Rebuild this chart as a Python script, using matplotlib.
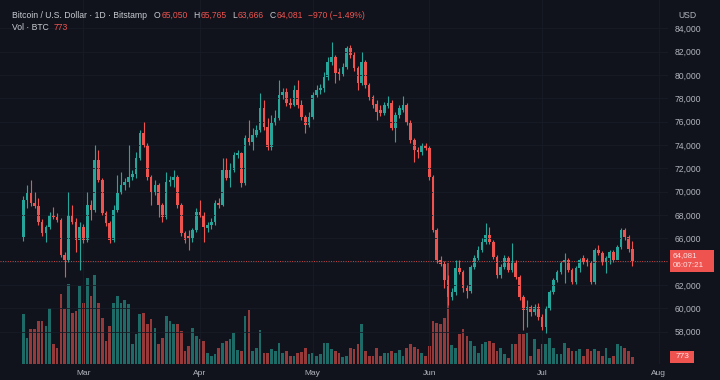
import matplotlib.pyplot as plt
import numpy as np
import pandas as pd
from matplotlib.patches import Rectangle

# daily BTC/USD candles, Bitstamp
start = "2024-02-14"
opens = [66110, 69290, 69890, 69030, 68770, 67400, 66460, 66970, 68000, 67830,
         67570, 64570, 64140, 68000, 67400, 65860, 66970, 65860, 68860, 68430,
         72710, 71000, 68170, 67310, 65860, 68430, 69890, 70570, 70830, 71260,
         71510, 72890, 75030, 74000, 71260, 69970, 70570, 68860, 67830, 70830,
         71000, 71260, 68860, 66460, 66200, 66030, 66710, 68260, 68000, 66890,
         67140, 67400, 69030, 68860, 71860, 71170, 71860, 73140, 73310, 70740,
         74600, 74260, 74860, 75290, 77170, 75540, 73830, 75890, 76320, 78290,
         78540, 77600, 77430, 78720, 77430, 76400, 75720, 76400, 78290, 78720,
         78890, 79830, 81120, 81540, 80260, 80090, 80690, 82320, 81720, 80600,
         79320, 81120, 79140, 78120, 77520, 77000, 76740, 77340, 77600, 75460,
         76570, 77000, 77430, 75890, 74430, 73570, 73400, 74000, 73740, 71260,
         66710, 64140, 63800, 62430, 60970, 61400, 63460, 63120, 61740, 61490,
         63540, 64310, 65000, 65690, 66290, 65690, 64400, 62860, 63540, 64310,
         63290, 63970, 62690, 60970, 59860, 60120, 59690, 60120, 59260, 58400,
         60030, 61400, 62430, 63120, 63890, 64140, 63290, 62260, 63460, 64310,
         64140, 63890, 62260, 65000, 64740, 63970, 64310, 64830, 64140, 65260,
         66710, 66110, 65050]
highs = [69630, 70570, 71000, 69970, 69460, 67660, 67140, 68260, 68690, 68170,
         67740, 64830, 69970, 68860, 67740, 67400, 67230, 69970, 69290, 74000,
         73570, 71170, 68340, 67490, 68860, 71430, 71690, 71170, 74000, 71860,
         73400, 75290, 75970, 74170, 71430, 71000, 70740, 69030, 71690, 71340,
         71860, 71430, 69030, 66630, 66710, 66890, 68600, 69290, 68260, 67400,
         67740, 69290, 69460, 72890, 72890, 72460, 73400, 73570, 73400, 74860,
         76140, 75460, 75720, 78460, 77860, 76320, 76570, 77000, 79570, 78890,
         78890, 78030, 79140, 79570, 77860, 76570, 76830, 78540, 79140, 79230,
         80260, 81540, 82830, 81720, 80600, 81030, 82490, 82570, 81970, 80770,
         81970, 81290, 79320, 78290, 77860, 77430, 77690, 78200, 77860, 76830,
         77430, 78200, 77600, 76140, 74600, 73830, 74170, 74170, 73910, 71430,
         66890, 64490, 64060, 62860, 61740, 64140, 64140, 63290, 62000, 63710,
         64570, 65340, 66030, 67310, 66970, 65860, 64570, 63800, 64570, 64490,
         65600, 64140, 62860, 61140, 60710, 60290, 60370, 60460, 59520, 60200,
         61570, 62600, 63290, 64060, 64740, 64310, 63460, 63630, 64310, 64570,
         64310, 64060, 65170, 65430, 64910, 64490, 65000, 65000, 65430, 66890,
         66890, 66290, 65765]
lows = [65770, 68600, 68770, 68600, 67140, 66200, 65690, 66800, 67660, 67400,
        64400, 62690, 63970, 67230, 64830, 63290, 65600, 65690, 67570, 68260,
        70830, 68000, 67060, 65600, 65690, 68260, 69800, 70140, 70400, 71000,
        71170, 72710, 73830, 71000, 68860, 69710, 67830, 67400, 67660, 70490,
        70400, 68600, 66200, 65600, 65000, 65690, 66540, 67830, 65690, 66540,
        66800, 67140, 68600, 68770, 71000, 70400, 71690, 72890, 70400, 70570,
        74000, 73570, 74690, 75120, 75290, 73570, 73570, 75720, 76140, 77940,
        77340, 77170, 77340, 77170, 76140, 75030, 75540, 76230, 78120, 78370,
        78540, 79570, 80860, 79320, 79570, 79920, 80520, 81460, 80340, 78720,
        79140, 78890, 77860, 77170, 76140, 76490, 76570, 77170, 75290, 74260,
        76320, 76830, 75720, 74170, 72540, 72890, 73140, 73570, 71000, 66540,
        63890, 63630, 61740, 60290, 60710, 61140, 62950, 61400, 60890, 61320,
        63370, 64140, 64830, 65510, 65510, 64230, 62600, 62600, 63370, 63120,
        63120, 62520, 60710, 58140, 58400, 59350, 59430, 59000, 58140, 57890,
        59860, 61230, 62260, 62950, 62170, 63120, 62090, 62090, 63120, 63800,
        63630, 62090, 62090, 64570, 63710, 63030, 63800, 63970, 64230, 65090,
        65860, 64830, 63666]
closes = [69290, 69890, 69030, 68770, 67400, 66460, 66970, 68000, 67830, 67570,
          64570, 64140, 68000, 67400, 65860, 66970, 65860, 68860, 68430, 72710,
          71000, 68170, 67310, 65860, 68430, 69890, 70570, 70830, 71260, 71510,
          72890, 75030, 74000, 71260, 69970, 70570, 68860, 67830, 70830, 71000,
          71260, 68860, 66460, 65860, 66030, 66710, 68260, 68000, 66970, 67140,
          67400, 69030, 68860, 71860, 71170, 71860, 73140, 73310, 70740, 74600,
          74260, 74860, 75290, 77170, 75540, 73830, 75890, 76320, 78290, 78540,
          77600, 77430, 78720, 77430, 76400, 75720, 76400, 78290, 78720, 78890,
          79830, 81120, 81540, 80170, 80090, 80690, 82320, 81720, 80600, 79320,
          81120, 79140, 78120, 77430, 76830, 76740, 77430, 77600, 75460, 76570,
          77170, 77430, 75890, 74430, 73570, 73400, 74000, 73740, 71260, 66710,
          64140, 63800, 62430, 60970, 61400, 63460, 63120, 61740, 61490, 63540,
          64310, 65000, 65690, 66290, 65690, 64400, 62860, 63540, 64310, 63290,
          63970, 62690, 60970, 59860, 60120, 59690, 60120, 59260, 58400, 60030,
          61400, 62430, 63120, 63890, 64140, 63290, 62260, 63460, 64140, 63970,
          63890, 62260, 65000, 64740, 63890, 64310, 64830, 64140, 65260, 66710,
          66110, 65051, 64081]
volumes = [5500, 2860, 3850, 3850, 4730, 4730, 4180, 6160, 2200, 1760,
           7700, 6050, 8800, 5610, 5830, 8580, 6710, 9460, 7480, 9790,
           6710, 5060, 2530, 4180, 6710, 7480, 6710, 7040, 6600, 2200,
           3300, 5500, 5610, 4400, 4950, 3960, 2200, 2860, 5280, 4730,
           4400, 4400, 3630, 1430, 1980, 3960, 3080, 2750, 2530, 1210,
           880, 1100, 1760, 2310, 2530, 2750, 3410, 1540, 1430, 5280,
           5940, 1430, 1760, 3740, 1210, 1210, 1650, 1430, 2310, 1210,
           1430, 880, 880, 1210, 1320, 1760, 1100, 1210, 880, 1100,
           2310, 2310, 1650, 1430, 1210, 770, 880, 1760, 1650, 2200,
           4400, 1430, 880, 880, 1760, 880, 1210, 1210, 1430, 1210,
           1540, 880, 1760, 2200, 1870, 1650, 1210, 880, 1980, 4730,
           4510, 4400, 5060, 11110, 2090, 1760, 3300, 3850, 3080, 2530,
           1980, 1210, 2200, 2420, 2530, 2310, 1430, 1760, 1100, 660,
           2200, 2200, 3300, 3300, 3410, 880, 2750, 1650, 2200, 2200,
           2860, 1760, 1100, 1100, 2310, 1760, 1430, 1430, 1650, 880,
           1650, 1430, 1650, 1430, 880, 1760, 660, 880, 2200, 1980,
           1760, 1430, 773]
price_ticks = list(range(58000, 84001, 2000))
countdown = "06:07:21"

bg = "#10131c"
up = "#26a69a"
down = "#ef5350"
txt = "#b2b5be"
hdr = "#c9cbd1"
grid_c = "#181c27"

plt.rcParams["font.family"] = ["Liberation Sans", "DejaVu Sans"]

dates = pd.date_range(start, periods=len(closes), freq="D")
x = np.arange(len(closes))
o = np.array(opens)
c = np.array(closes)
colors = np.where(c >= o, up, down)

W, H = 720, 380
fig = plt.figure(figsize=(7.2, 3.8), dpi=100, facecolor=bg)
rect = [0, 16 / H, 668 / W, 364 / H]

# volume pane underneath the candles
axv = fig.add_axes(rect)
axv.axis("off")
axv.bar(x, volumes, width=0.72, color=colors, alpha=0.6, linewidth=0)
axv.set_ylim(0, 40040)

ax = fig.add_axes(rect, sharex=axv)
ax.patch.set_visible(False)
ax.vlines(x, lows, highs, colors=colors, linewidth=0.8)
body = np.maximum(np.abs(c - o), 60)
ax.bar(x, body, bottom=np.minimum(o, c), width=0.7, color=colors, linewidth=0)
ax.set_xlim(-6.2, 171.5)
ax.set_ylim(55232, 86430)

months = pd.date_range("2024-03-01", periods=6, freq="MS")
ax.set_xticks((months - dates[0]).days, months.strftime("%b"))
ax.yaxis.tick_right()
# the price tag hides the scale label it sits on
ax.set_yticks(price_ticks, ["" if abs(v - c[-1]) < 1200 else f"{v:,}" for v in price_ticks])
ax.tick_params(axis="x", length=0, pad=4, labelsize=6, labelcolor=txt)
ax.tick_params(axis="y", length=0, pad=5, labelsize=6.2, labelcolor=txt)
ax.grid(color=grid_c, linewidth=0.6)
for s in ax.spines.values():
    s.set_visible(False)

ax.axhline(c[-1], color=down, linewidth=0.7, linestyle=(0, (1, 1.5)), alpha=0.85)

# last price tag
yp = ax.transData.transform((0, c[-1]))[1]
fig.add_artist(Rectangle((670 / W, (yp - 11) / H), 44 / W, 22 / H,
                         transform=fig.transFigure, color=down, linewidth=0))
fig.text(673 / W, (yp + 5) / H, f"{c[-1]:,}", color="#fde2e2", fontsize=5.8, va="center")
fig.text(673 / W, (yp - 5) / H, countdown, color="#fde2e2", fontsize=5.8, va="center")

# last volume tag
yv = axv.transData.transform((0, volumes[-1]))[1]
fig.add_artist(Rectangle((670 / W, (yv - 6) / H), 24 / W, 12 / H,
                         transform=fig.transFigure, color=down, linewidth=0))
fig.text(682 / W, yv / H, f"{volumes[-1]}", color="#fde2e2", fontsize=6, va="center", ha="center")

fig.text(678 / W, 1 - 15.5 / H, "USD", color=txt, fontsize=6.2, va="center")

# header rows
chg = closes[-1] - closes[-2]
pct = chg / closes[-2] * 100
renderer = fig.canvas.get_renderer()


def row(parts, y, size=6.2):
    xpos = 12
    for s, col, gap in parts:
        t = fig.text(xpos / W, 1 - y / H, s, color=col, fontsize=size, va="center", ha="left")
        xpos += t.get_window_extent(renderer).width + gap


row([("Bitcoin / U.S. Dollar · 1D · Bitstamp", hdr, 7),
     ("O", hdr, 0.5), (f"{opens[-1]:,}", down, 6),
     ("H", hdr, 0.5), (f"{highs[-1]:,}", down, 6),
     ("L", hdr, 0.5), (f"{lows[-1]:,}", down, 6),
     ("C", hdr, 0.5), (f"{closes[-1]:,}", down, 5),
     (f"{chg:,} ({pct:.2f}%)".replace("-", "\u2212"), down, 0)], 15)
row([("Vol · BTC", hdr, 5), (f"{volumes[-1]}", down, 0)], 27)

fig.savefig("out.png", dpi=100, facecolor=bg)
